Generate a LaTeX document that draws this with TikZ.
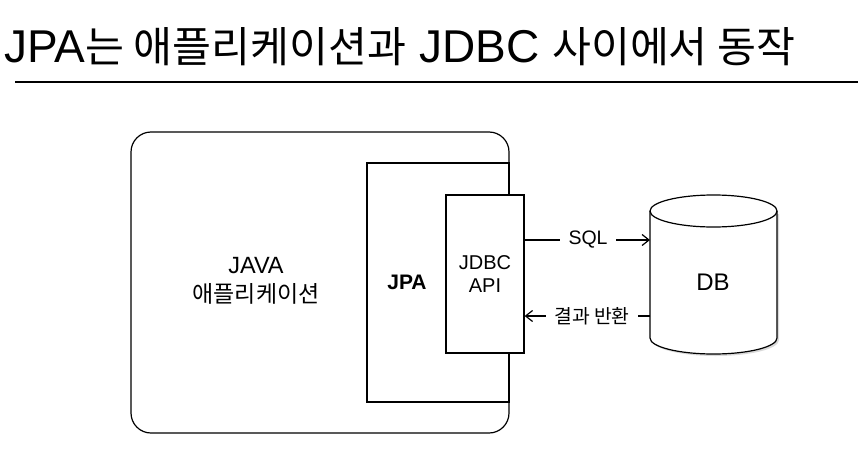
\documentclass[tikz,border=0pt]{standalone}
\usepackage{fontspec}
\setmainfont{Liberation Sans}
\newfontfamily\kr[Scale=0.92]{Noto Sans CJK KR}
\usetikzlibrary{arrows.meta}
\begin{document}
\begin{tikzpicture}[x=1pt,y=1pt,
    line width=1.2pt,
    box/.style={draw,minimum width=#1,inner sep=0pt},
    lbl/.style={inner xsep=8pt,inner ysep=0pt,font=\fontsize{19.5}{22}\selectfont},
    barb/.style={-{Straight Barb[length=7pt,width=11pt,line width=1.2pt]}}]
  \useasboundingbox (0,0) rectangle (858,-460);
  % title and rule:
  \node[anchor=base west,inner sep=0pt,font=\fontsize{46}{50}\selectfont] (title) at (4,-63)
    {JPA{\kr 는 애플리케이션과} JDBC {\kr 사이에서 동작}};
  \coordinate (ruleL) at (15,-82);
  \coordinate (ruleR) at (858,-82);
  \draw (ruleL) -- (ruleR);
  % application, JPA and JDBC boxes:
  \node[box=378pt,minimum height=301pt,rounded corners=20pt] (app) at (320,-282.5) {};
  \node[box=142pt,minimum height=239pt] (jpa) at (438,-282.5) {};
  \node[box=78pt,minimum height=158pt,fill=white] (jdbc) at (485,-274) {};
  \node[align=center,font=\fontsize{23.5}{29}\selectfont] (javalbl) at (256,-281)
    {JAVA\\{\kr\fontsize{25}{29}\selectfont 애플리케이션}};
  \node[font=\bfseries\fontsize{21}{24}\selectfont] (jpalbl) at (407,-282) {JPA};
  \node[align=center,font=\fontsize{20}{23}\selectfont] (jdbclbl) at (485,-274) {JDBC\\API};
  % database cylinder with its shadow:
  \fill[black!15] (652,-214) -- (652,-340) arc (180:360:63.5 and 16) -- (779,-214) -- cycle;
  \filldraw[fill=white] (650,-211) -- (650,-338) arc (180:360:63.5 and 16)
    -- (777,-211) arc (0:180:63.5 and 16) -- cycle;
  \draw (650,-211) arc (180:360:63.5 and 16);
  \node[font=\fontsize{24}{26}\selectfont] (db) at (713,-282) {DB};
  \coordinate (dbsql) at (650,-240);
  \coordinate (dbret) at (650,-316);
  % SQL and result connectors:
  \node[lbl] (sqllbl) at (588,-240) {SQL};
  \node[lbl,font=\fontsize{21}{22}\selectfont] (retlbl) at (592,-316) {\kr 결과 반환};
  \draw (jdbc.east |- sqllbl) -- (sqllbl.west);
  \draw[barb] (sqllbl.east) -- (dbsql);
  \draw (dbret) -- (retlbl.east);
  \draw[barb] (retlbl.west) -- (jdbc.east |- retlbl);
\end{tikzpicture}
\end{document}
